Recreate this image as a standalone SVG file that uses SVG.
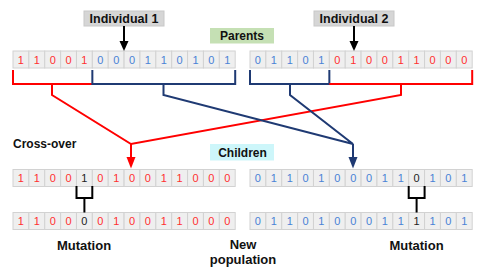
<svg xmlns="http://www.w3.org/2000/svg" width="486" height="277" viewBox="0 0 486 277">
<style>
.c{fill:#efefef;stroke:#d2d2d2;stroke-width:1}
.d{font-family:"Liberation Sans",Arial,sans-serif;font-size:11px;text-anchor:middle}
.r{fill:#ff3030}
.b{fill:#4a82d6}
.k{fill:#222}
.lbl{font-family:"Liberation Sans",Arial,sans-serif;font-weight:bold;fill:#111;text-anchor:middle}
.red{stroke:#ff0000;stroke-width:2;fill:none}
.navy{stroke:#1f3a73;stroke-width:2;fill:none}
.blk{stroke:#000;stroke-width:2;fill:none}
</style>
<rect width="486" height="277" fill="#ffffff"/>

<g id="individual1">
<rect x="84" y="11" width="80" height="15" fill="#d6d6d6" stroke="#c8c8c8"/>
<text class="lbl" x="124" y="23" font-size="12.5">Individual 1</text>
</g>
<g id="individual2">
<rect x="314" y="11" width="80" height="15" fill="#d6d6d6" stroke="#c8c8c8"/>
<text class="lbl" x="354" y="23" font-size="12.5">Individual 2</text>
</g>
<g id="parents-label">
<rect x="210" y="28" width="64" height="15.5" fill="#c5e0b4"/>
<text class="lbl" x="242" y="40" font-size="12">Parents</text>
</g>
<g id="children-label">
<rect x="210" y="144" width="64" height="16.5" fill="#cdf6fa"/>
<text class="lbl" x="242.5" y="157" font-size="12">Children</text>
</g>

<g id="parent1">
<rect class="c" x="13" y="51" width="15.87" height="17"/><rect class="c" x="28.87" y="51" width="15.87" height="17"/><rect class="c" x="44.74" y="51" width="15.87" height="17"/><rect class="c" x="60.61" y="51" width="15.87" height="17"/><rect class="c" x="76.48" y="51" width="15.87" height="17"/><rect class="c" x="92.35" y="51" width="15.87" height="17"/><rect class="c" x="108.22" y="51" width="15.87" height="17"/><rect class="c" x="124.09" y="51" width="15.87" height="17"/><rect class="c" x="139.96" y="51" width="15.87" height="17"/><rect class="c" x="155.83" y="51" width="15.87" height="17"/><rect class="c" x="171.7" y="51" width="15.87" height="17"/><rect class="c" x="187.57" y="51" width="15.87" height="17"/><rect class="c" x="203.44" y="51" width="15.87" height="17"/><rect class="c" x="219.31" y="51" width="15.87" height="17"/>
<text class="d r" x="20.9" y="63.5">1</text><text class="d r" x="36.8" y="63.5">1</text><text class="d r" x="52.7" y="63.5">0</text><text class="d r" x="68.5" y="63.5">0</text><text class="d r" x="84.4" y="63.5">1</text>
<text class="d b" x="100.3" y="63.5">0</text><text class="d b" x="116.2" y="63.5">0</text><text class="d b" x="132" y="63.5">0</text><text class="d b" x="147.9" y="63.5">1</text><text class="d b" x="163.8" y="63.5">1</text><text class="d b" x="179.6" y="63.5">0</text><text class="d b" x="195.5" y="63.5">1</text><text class="d b" x="211.4" y="63.5">0</text><text class="d b" x="227.2" y="63.5">1</text>
</g>

<g id="parent2">
<rect class="c" x="250" y="51" width="15.87" height="17"/><rect class="c" x="265.87" y="51" width="15.87" height="17"/><rect class="c" x="281.74" y="51" width="15.87" height="17"/><rect class="c" x="297.61" y="51" width="15.87" height="17"/><rect class="c" x="313.48" y="51" width="15.87" height="17"/><rect class="c" x="329.35" y="51" width="15.87" height="17"/><rect class="c" x="345.22" y="51" width="15.87" height="17"/><rect class="c" x="361.09" y="51" width="15.87" height="17"/><rect class="c" x="376.96" y="51" width="15.87" height="17"/><rect class="c" x="392.83" y="51" width="15.87" height="17"/><rect class="c" x="408.7" y="51" width="15.87" height="17"/><rect class="c" x="424.57" y="51" width="15.87" height="17"/><rect class="c" x="440.44" y="51" width="15.87" height="17"/><rect class="c" x="456.31" y="51" width="15.87" height="17"/>
<text class="d b" x="257.9" y="63.5">0</text><text class="d b" x="273.8" y="63.5">1</text><text class="d b" x="289.7" y="63.5">1</text><text class="d b" x="305.5" y="63.5">0</text><text class="d b" x="321.4" y="63.5">1</text>
<text class="d r" x="337.3" y="63.5">0</text><text class="d r" x="353.2" y="63.5">1</text><text class="d r" x="369" y="63.5">0</text><text class="d r" x="384.9" y="63.5">0</text><text class="d r" x="400.8" y="63.5">1</text><text class="d r" x="416.6" y="63.5">1</text><text class="d r" x="432.5" y="63.5">0</text><text class="d r" x="448.4" y="63.5">0</text><text class="d r" x="464.2" y="63.5">0</text>
</g>

<g id="child1">
<rect class="c" x="13" y="169.5" width="15.87" height="17"/><rect class="c" x="28.87" y="169.5" width="15.87" height="17"/><rect class="c" x="44.74" y="169.5" width="15.87" height="17"/><rect class="c" x="60.61" y="169.5" width="15.87" height="17"/><rect class="c" x="76.48" y="169.5" width="15.87" height="17"/><rect class="c" x="92.35" y="169.5" width="15.87" height="17"/><rect class="c" x="108.22" y="169.5" width="15.87" height="17"/><rect class="c" x="124.09" y="169.5" width="15.87" height="17"/><rect class="c" x="139.96" y="169.5" width="15.87" height="17"/><rect class="c" x="155.83" y="169.5" width="15.87" height="17"/><rect class="c" x="171.7" y="169.5" width="15.87" height="17"/><rect class="c" x="187.57" y="169.5" width="15.87" height="17"/><rect class="c" x="203.44" y="169.5" width="15.87" height="17"/><rect class="c" x="219.31" y="169.5" width="15.87" height="17"/>
<text class="d r" x="20.9" y="182">1</text><text class="d r" x="36.8" y="182">1</text><text class="d r" x="52.7" y="182">0</text><text class="d r" x="68.5" y="182">0</text><text class="d k" x="84.4" y="182">1</text>
<text class="d r" x="100.3" y="182">0</text><text class="d r" x="116.2" y="182">1</text><text class="d r" x="132" y="182">0</text><text class="d r" x="147.9" y="182">0</text><text class="d r" x="163.8" y="182">1</text><text class="d r" x="179.6" y="182">1</text><text class="d r" x="195.5" y="182">0</text><text class="d r" x="211.4" y="182">0</text><text class="d r" x="227.2" y="182">0</text>
</g>

<g id="child2">
<rect class="c" x="250" y="169.5" width="15.87" height="17"/><rect class="c" x="265.87" y="169.5" width="15.87" height="17"/><rect class="c" x="281.74" y="169.5" width="15.87" height="17"/><rect class="c" x="297.61" y="169.5" width="15.87" height="17"/><rect class="c" x="313.48" y="169.5" width="15.87" height="17"/><rect class="c" x="329.35" y="169.5" width="15.87" height="17"/><rect class="c" x="345.22" y="169.5" width="15.87" height="17"/><rect class="c" x="361.09" y="169.5" width="15.87" height="17"/><rect class="c" x="376.96" y="169.5" width="15.87" height="17"/><rect class="c" x="392.83" y="169.5" width="15.87" height="17"/><rect class="c" x="408.7" y="169.5" width="15.87" height="17"/><rect class="c" x="424.57" y="169.5" width="15.87" height="17"/><rect class="c" x="440.44" y="169.5" width="15.87" height="17"/><rect class="c" x="456.31" y="169.5" width="15.87" height="17"/>
<text class="d b" x="257.9" y="182">0</text><text class="d b" x="273.8" y="182">1</text><text class="d b" x="289.7" y="182">1</text><text class="d b" x="305.5" y="182">0</text><text class="d b" x="321.4" y="182">1</text>
<text class="d b" x="337.3" y="182">0</text><text class="d b" x="353.2" y="182">0</text><text class="d b" x="369" y="182">0</text><text class="d b" x="384.9" y="182">1</text><text class="d b" x="400.8" y="182">1</text><text class="d k" x="416.6" y="182">0</text><text class="d b" x="432.5" y="182">1</text><text class="d b" x="448.4" y="182">0</text><text class="d b" x="464.2" y="182">1</text>
</g>

<g id="mutant1">
<rect class="c" x="13" y="212.5" width="15.87" height="17"/><rect class="c" x="28.87" y="212.5" width="15.87" height="17"/><rect class="c" x="44.74" y="212.5" width="15.87" height="17"/><rect class="c" x="60.61" y="212.5" width="15.87" height="17"/><rect class="c" x="76.48" y="212.5" width="15.87" height="17"/><rect class="c" x="92.35" y="212.5" width="15.87" height="17"/><rect class="c" x="108.22" y="212.5" width="15.87" height="17"/><rect class="c" x="124.09" y="212.5" width="15.87" height="17"/><rect class="c" x="139.96" y="212.5" width="15.87" height="17"/><rect class="c" x="155.83" y="212.5" width="15.87" height="17"/><rect class="c" x="171.7" y="212.5" width="15.87" height="17"/><rect class="c" x="187.57" y="212.5" width="15.87" height="17"/><rect class="c" x="203.44" y="212.5" width="15.87" height="17"/><rect class="c" x="219.31" y="212.5" width="15.87" height="17"/>
<text class="d r" x="20.9" y="225">1</text><text class="d r" x="36.8" y="225">1</text><text class="d r" x="52.7" y="225">0</text><text class="d r" x="68.5" y="225">0</text><text class="d k" x="84.4" y="225">0</text>
<text class="d r" x="100.3" y="225">0</text><text class="d r" x="116.2" y="225">1</text><text class="d r" x="132" y="225">0</text><text class="d r" x="147.9" y="225">0</text><text class="d r" x="163.8" y="225">1</text><text class="d r" x="179.6" y="225">1</text><text class="d r" x="195.5" y="225">0</text><text class="d r" x="211.4" y="225">0</text><text class="d r" x="227.2" y="225">0</text>
</g>

<g id="mutant2">
<rect class="c" x="250" y="212.5" width="15.87" height="17"/><rect class="c" x="265.87" y="212.5" width="15.87" height="17"/><rect class="c" x="281.74" y="212.5" width="15.87" height="17"/><rect class="c" x="297.61" y="212.5" width="15.87" height="17"/><rect class="c" x="313.48" y="212.5" width="15.87" height="17"/><rect class="c" x="329.35" y="212.5" width="15.87" height="17"/><rect class="c" x="345.22" y="212.5" width="15.87" height="17"/><rect class="c" x="361.09" y="212.5" width="15.87" height="17"/><rect class="c" x="376.96" y="212.5" width="15.87" height="17"/><rect class="c" x="392.83" y="212.5" width="15.87" height="17"/><rect class="c" x="408.7" y="212.5" width="15.87" height="17"/><rect class="c" x="424.57" y="212.5" width="15.87" height="17"/><rect class="c" x="440.44" y="212.5" width="15.87" height="17"/><rect class="c" x="456.31" y="212.5" width="15.87" height="17"/>
<text class="d b" x="257.9" y="225">0</text><text class="d b" x="273.8" y="225">1</text><text class="d b" x="289.7" y="225">1</text><text class="d b" x="305.5" y="225">0</text><text class="d b" x="321.4" y="225">1</text>
<text class="d b" x="337.3" y="225">0</text><text class="d b" x="353.2" y="225">0</text><text class="d b" x="369" y="225">0</text><text class="d b" x="384.9" y="225">1</text><text class="d b" x="400.8" y="225">1</text><text class="d k" x="416.6" y="225">1</text><text class="d b" x="432.5" y="225">1</text><text class="d b" x="448.4" y="225">0</text><text class="d b" x="464.2" y="225">1</text>
</g>

<g id="connectors">
<line class="blk" x1="124" y1="26" x2="124" y2="42"/>
<path d="M119.5,41 L128.5,41 L124,51 Z" fill="#000"/>
<line class="blk" x1="354" y1="26" x2="354" y2="42"/>
<path d="M349.5,41 L358.5,41 L354,51 Z" fill="#000"/>

<polyline class="red" points="13,70 13,84 92.35,84"/>
<polyline class="navy" points="92.35,70 92.35,84 235.2,84 235.2,70"/>
<polyline class="red" points="52,84 52,95 131,144 401,95 401,84"/>
<polyline class="navy" points="163.5,84 163.5,95 353,144 290,95 290,84"/>
<polyline class="navy" points="250,70 250,84 329.35,84 329.35,70"/>
<polyline class="red" points="329.35,84 472.2,84 472.2,70"/>

<line class="red" x1="131" y1="144" x2="131" y2="158"/>
<path d="M126.5,157 L135.5,157 L131,168.5 Z" fill="#ff0000"/>
<line class="navy" x1="353" y1="144" x2="353" y2="158"/>
<path d="M348.5,157 L357.5,157 L353,168.5 Z" fill="#1f3a73"/>

<polyline class="blk" points="76.5,186 76.5,198 92.3,198 92.3,186"/>
<line class="blk" x1="84.4" y1="198" x2="84.4" y2="212.5"/>
<polyline class="blk" points="408.7,186 408.7,198 424.6,198 424.6,186"/>
<line class="blk" x1="416.6" y1="198" x2="416.6" y2="212.5"/>
</g>

<g id="labels">
<text class="lbl" x="13" y="148" font-size="12" style="text-anchor:start">Cross-over</text>
<text class="lbl" x="84" y="250" font-size="13">Mutation</text>
<text class="lbl" x="416.5" y="250" font-size="13">Mutation</text>
<text class="lbl" x="243" y="249" font-size="13">New</text>
<text class="lbl" x="243" y="264" font-size="13">population</text>
</g>
</svg>
